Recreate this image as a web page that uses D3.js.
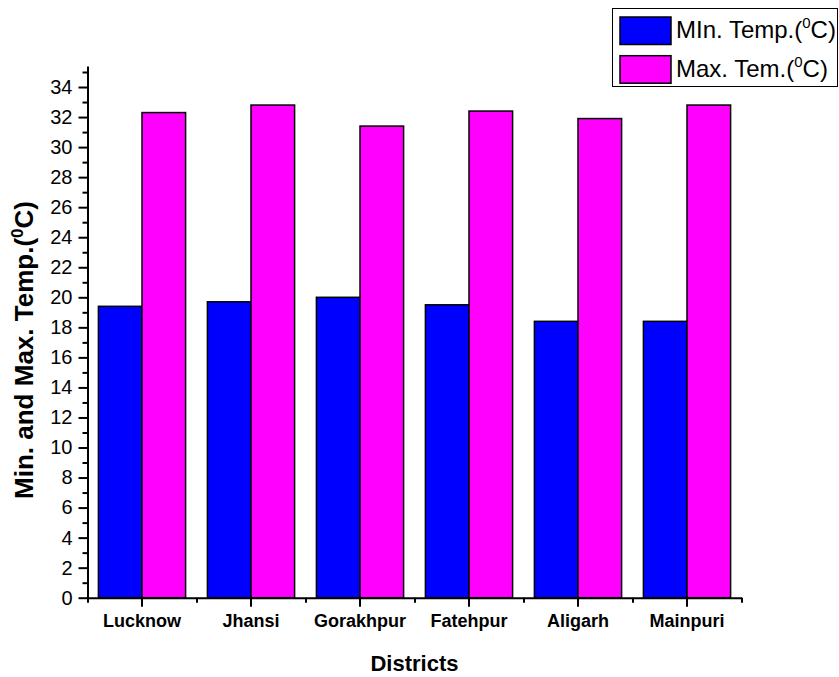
<!DOCTYPE html>
<html>
<head>
<meta charset="utf-8">
<script src="https://cdn.jsdelivr.net/npm/d3@7"></script>
<style>
  html, body { margin: 0; padding: 0; background: #fff; }
  svg { display: block; font-family: "Liberation Sans", Arial, sans-serif; }
</style>
</head>
<body>
<svg id="chart" width="839" height="677"></svg>
<script>
// District temperature data (°C)
const districts = ["Lucknow", "Jhansi", "Gorakhpur", "Fatehpur", "Aligarh", "Mainpuri"];
const minTemp = [19.4, 19.7, 20.0, 19.5, 18.4, 18.4];
const maxTemp = [32.3, 32.8, 31.4, 32.4, 31.9, 32.8];
const seriesNames = ["min", "max"];
const seriesColors = ["#0000ff", "#ff00ff"];
const yMajorTicks = d3.range(0, 35, 2);
const yMinorTicks = d3.range(1, 36, 2);

const svg = d3.select("#chart");

const x0 = 87.5, x1End = 741.5, yBottom = 597.7, yTop = 66;

const x = d3.scaleBand().domain(districts).range([x0, x1End]).paddingInner(0).paddingOuter(0);
const xSub = d3.scaleBand().domain(seriesNames)
  .range([x.bandwidth() * 0.1, x.bandwidth() * 0.9]).padding(0);
const y = d3.scaleLinear().domain([0, 35.4]).range([yBottom, yTop]);

// Bars
const rows = districts.map((d, i) => ({ district: d, values: [minTemp[i], maxTemp[i]] }));
const groups = svg.append("g").selectAll("g").data(rows).join("g")
  .attr("transform", d => `translate(${x(d.district)},0)`);
groups.selectAll("rect")
  .data(d => d.values.map((v, k) => ({ key: seriesNames[k], value: v, color: seriesColors[k] })))
  .join("rect")
  .attr("x", d => xSub(d.key))
  .attr("y", d => y(d.value))
  .attr("width", xSub.bandwidth())
  .attr("height", d => y(0) - y(d.value))
  .attr("fill", d => d.color)
  .attr("stroke", "#000")
  .attr("stroke-width", 1.5);

// Y axis: major + minor ticks
const yAxis = svg.append("g").attr("transform", `translate(${x0},0)`)
  .call(d3.axisLeft(y).tickValues(yMajorTicks).tickSize(9).tickSizeOuter(0).tickPadding(6));
yAxis.select(".domain").attr("stroke-width", 2);
yAxis.selectAll(".tick line").attr("stroke-width", 2);
yAxis.selectAll(".tick text").attr("font-size", 20).attr("fill", "#000");

const yMinor = svg.append("g").attr("transform", `translate(${x0},0)`)
  .call(d3.axisLeft(y).tickValues(yMinorTicks.filter(v => v < 35.4)).tickSize(5).tickSizeOuter(0).tickFormat(""));
yMinor.select(".domain").remove();
yMinor.selectAll(".tick line").attr("stroke-width", 2);

// X axis: major ticks at district centres, minor at band edges
const xAxis = svg.append("g").attr("transform", `translate(0,${yBottom})`)
  .call(d3.axisBottom(x).tickSize(9).tickSizeOuter(0).tickPadding(8));
xAxis.select(".domain").attr("stroke-width", 2);
xAxis.selectAll(".tick line").attr("stroke-width", 2);
xAxis.selectAll(".tick text").attr("font-size", 18).attr("font-weight", "bold").attr("fill", "#000");

const edge = d3.scaleLinear().domain([0, districts.length]).range([x0, x1End]);
const xMinor = svg.append("g").attr("transform", `translate(0,${yBottom})`)
  .call(d3.axisBottom(edge).tickValues(d3.range(0, districts.length + 1)).tickSize(5).tickSizeOuter(0).tickFormat(""));
xMinor.select(".domain").remove();
xMinor.selectAll(".tick line").attr("stroke-width", 2);

// Axis titles
svg.append("text")
  .attr("x", (x0 + x1End) / 2).attr("y", 671)
  .attr("text-anchor", "middle")
  .attr("font-size", 22).attr("font-weight", "bold")
  .text("Districts");

const yTitle = svg.append("text")
  .attr("transform", `translate(33,350) rotate(-90)`)
  .attr("text-anchor", "middle")
  .attr("font-size", 26).attr("font-weight", "bold");
yTitle.append("tspan").text("Min. and Max. Temp.(");
yTitle.append("tspan").attr("font-size", 17).attr("dy", -10).text("0");
yTitle.append("tspan").attr("dy", 10).text("C)");

// Legend
const legend = svg.append("g");
legend.append("rect")
  .attr("x", 612.5).attr("y", 8.5).attr("width", 225).attr("height", 78)
  .attr("fill", "#fff").attr("stroke", "#000").attr("stroke-width", 1);
const legendLabels = [["MIn. Temp.(", "C)"], ["Max. Tem.(", "C)"]];
legendLabels.forEach((lab, i) => {
  const yy = 17 + i * 38.7;
  legend.append("rect")
    .attr("x", 620).attr("y", yy).attr("width", 51).attr("height", 27.5)
    .attr("fill", seriesColors[i]).attr("stroke", "#000").attr("stroke-width", 1.5);
  const t = legend.append("text")
    .attr("x", 676).attr("y", yy + 21)
    .attr("font-size", 24).attr("fill", "#000");
  t.append("tspan").text(lab[0]);
  t.append("tspan").attr("font-size", 15).attr("dy", -10).text("0");
  t.append("tspan").attr("dy", 10).text(lab[1]);
});
</script>
</body>
</html>
